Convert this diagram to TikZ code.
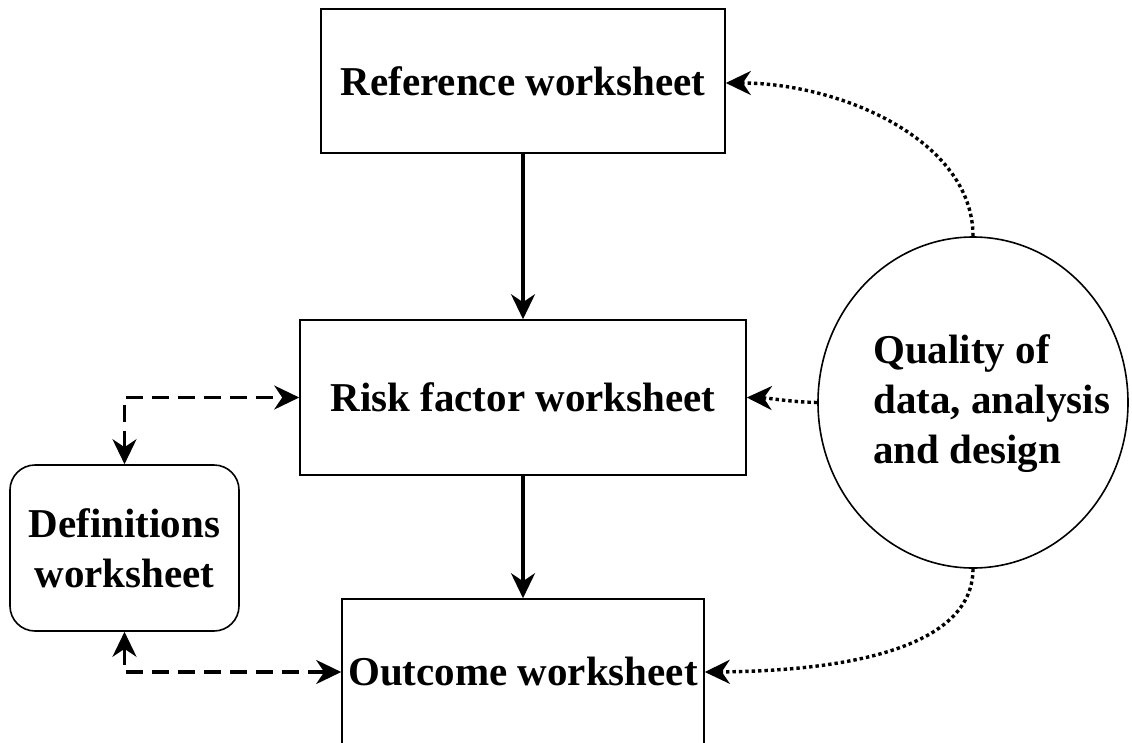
\documentclass[tikz,border=0pt]{standalone}
\usepackage{fontspec}
\setmainfont{Liberation Serif}
\usetikzlibrary{arrows.meta,shapes.geometric}
\begin{document}
\begin{tikzpicture}[x=1pt,y=-1pt,
  txt/.style={font=\fontsize{41}{50}\selectfont\bfseries},
  box/.style={draw=black, line width=1.6pt, rectangle, inner sep=0pt, txt, align=center},
  tip/.style={-{Stealth[length=25pt,width=24pt,inset=8pt]}},
  bitip/.style={{Stealth[length=25pt,width=24pt,inset=8pt]}-{Stealth[length=25pt,width=24pt,inset=8pt]}},
  solidarrow/.style={tip, line width=3.2pt},
  dasharrow/.style={bitip, line width=3.2pt, dash pattern=on 17pt off 9pt},
  dotarrow/.style={tip, line width=3.4pt, dash pattern=on 3.4pt off 3pt}]
\useasboundingbox (0,0) rectangle (1132,742);
\clip (0,0) rectangle (1132,742);
\node[box, minimum width=404pt, minimum height=144pt] (ref) at (523,81) {Reference worksheet};
\node[box, minimum width=446pt, minimum height=155pt] (risk) at (523,397.5) {Risk factor worksheet};
\node[box, rounded corners=25pt, minimum width=229pt, minimum height=166pt] (defs) at (124.5,548) {Definitions\\worksheet};
\node[box, minimum width=362pt, minimum height=146pt] (out) at (523,672) {Outcome worksheet};
\node[draw=black, line width=1.6pt, ellipse, minimum width=310pt, minimum height=331pt, inner sep=0pt] (qual) at (973,402.5) {};
\node[txt, align=left, anchor=west, inner sep=0pt] (qualtext) at (873,404) {Quality of\\data, analysis\\and design};
\draw[solidarrow] (risk.north |- ref.south) -- (risk.north);
\draw[solidarrow] (risk.south) -- (out.north);
\draw[dasharrow] (defs.north) |- (risk.west);
\draw[dasharrow] (defs.south) |- (out.west);
\draw[dotarrow] (qual.north) .. controls (973,140) and (840,83) .. (ref.east |- 0,83);
\draw[dotarrow] (qual.west) .. controls (790,402) and (770,398) .. (risk.east);
\draw[dotarrow] (qual.south) .. controls (973,650) and (840,671) .. (out.east);
\end{tikzpicture}
\end{document}
